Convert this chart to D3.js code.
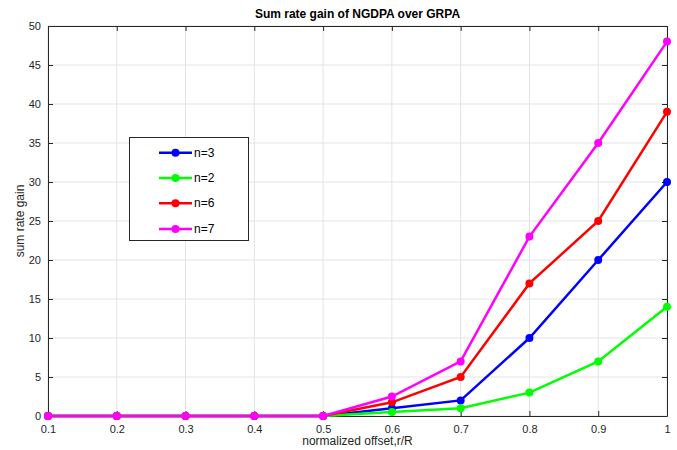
<!DOCTYPE html>
<html><head><meta charset="utf-8">
<script src="https://cdn.jsdelivr.net/npm/d3@7"></script>
<style>body{margin:0;background:#fff}svg{font-family:"Liberation Sans",Arial,sans-serif}</style>
</head><body><svg id="c" width="677" height="450"></svg>
<script>
const xValues = [0.1,0.2,0.3,0.4,0.5,0.6,0.7,0.8,0.9,1.0];
const seriesNames = ["n=3","n=2","n=6","n=7"];
const seriesColors = ["#0000ff","#00ff00","#ff0000","#ff00ff"];
const n3 = [0,0,0,0,0,1,2,10,20,30];
const n2 = [0,0,0,0,0,0.5,1,3,7,14];
const n6 = [0,0,0,0,0,1.75,5,17,25,39];
const n7 = [0,0,0,0,0,2.5,7,23,35,48];
const seriesValues = [n3,n2,n6,n7];
const xTicks = [0.1,0.2,0.3,0.4,0.5,0.6,0.7,0.8,0.9,1];
const yTicks = [0,5,10,15,20,25,30,35,40,45,50];

const svg = d3.select("#c");
const L=48,R=667,T=26,B=416;
const x = d3.scaleLinear().domain([0.1,1]).range([L,R]);
const y = d3.scaleLinear().domain([0,50]).range([B,T]);
const g = svg.append("g");
// grid
g.selectAll(".gx").data(xTicks).join("line").attr("x1",d=>x(d)).attr("x2",d=>x(d)).attr("y1",T).attr("y2",B).attr("stroke","#e3e3e3").attr("stroke-width",1);
g.selectAll(".gy").data(yTicks).join("line").attr("y1",d=>y(d)).attr("y2",d=>y(d)).attr("x1",L).attr("x2",R).attr("stroke","#e3e3e3").attr("stroke-width",1);
// axes
const fmtX = d=> d===1?"1":d3.format(".1f")(d);
const ax = g.append("g").attr("transform",`translate(0,${B})`).call(d3.axisBottom(x).tickValues(xTicks).tickFormat(fmtX).tickSizeInner(-5).tickSizeOuter(0).tickPadding(9));
const ay = g.append("g").attr("transform",`translate(${L},0)`).call(d3.axisLeft(y).tickValues(yTicks).tickSizeInner(-5).tickSizeOuter(0).tickPadding(7));
const at = g.append("g").attr("transform",`translate(0,${T})`).call(d3.axisTop(x).tickValues(xTicks).tickFormat("").tickSizeInner(-5).tickSizeOuter(0));
const ar = g.append("g").attr("transform",`translate(${R},0)`).call(d3.axisRight(y).tickValues(yTicks).tickFormat("").tickSizeInner(-5).tickSizeOuter(0));
[ax,ay,at,ar].forEach(a=>{a.selectAll("path").attr("stroke","#262626");a.selectAll("line").attr("stroke","#262626");a.selectAll("text").attr("fill","#262626").style("font-size","11px").attr("font-family",null);});
// series
const line = d3.line().x((d,i)=>x(xValues[i])).y(d=>y(d));
seriesValues.forEach((vals,k)=>{
  g.append("path").datum(vals).attr("d",line).attr("fill","none").attr("stroke",seriesColors[k]).attr("stroke-width",2.5);
  g.selectAll(".m"+k).data(vals).join("circle").attr("cx",(d,i)=>x(xValues[i])).attr("cy",d=>y(d)).attr("r",4).attr("fill",seriesColors[k]);
});
// title & labels
svg.append("text").attr("x",(L+R)/2).attr("y",18).attr("text-anchor","middle").style("font-size","12px").style("font-weight","bold").attr("fill","#000").text("Sum rate gain of NGDPA over GRPA");
svg.append("text").attr("x",(L+R)/2).attr("y",445).attr("text-anchor","middle").style("font-size","12px").attr("fill","#262626").text("normalized offset,r/R");
svg.append("text").attr("transform",`translate(24,${(T+B)/2}) rotate(-90)`).attr("text-anchor","middle").style("font-size","12px").attr("fill","#262626").text("sum rate gain");
// legend
const lg = svg.append("g");
lg.append("rect").attr("x",129.5).attr("y",137.5).attr("width",119).attr("height",103).attr("fill","#fff").attr("stroke","#262626").attr("stroke-width",1);
const rowsY = [152.7,178,203.3,229];
seriesNames.forEach((nm,k)=>{
  lg.append("line").attr("x1",159).attr("x2",192).attr("y1",rowsY[k]).attr("y2",rowsY[k]).attr("stroke",seriesColors[k]).attr("stroke-width",2.5);
  lg.append("circle").attr("cx",175.5).attr("cy",rowsY[k]).attr("r",4).attr("fill",seriesColors[k]);
  lg.append("text").attr("x",194).attr("y",rowsY[k]+4).style("font-size","12px").attr("fill","#000").text(nm);
});
</script></body></html>
